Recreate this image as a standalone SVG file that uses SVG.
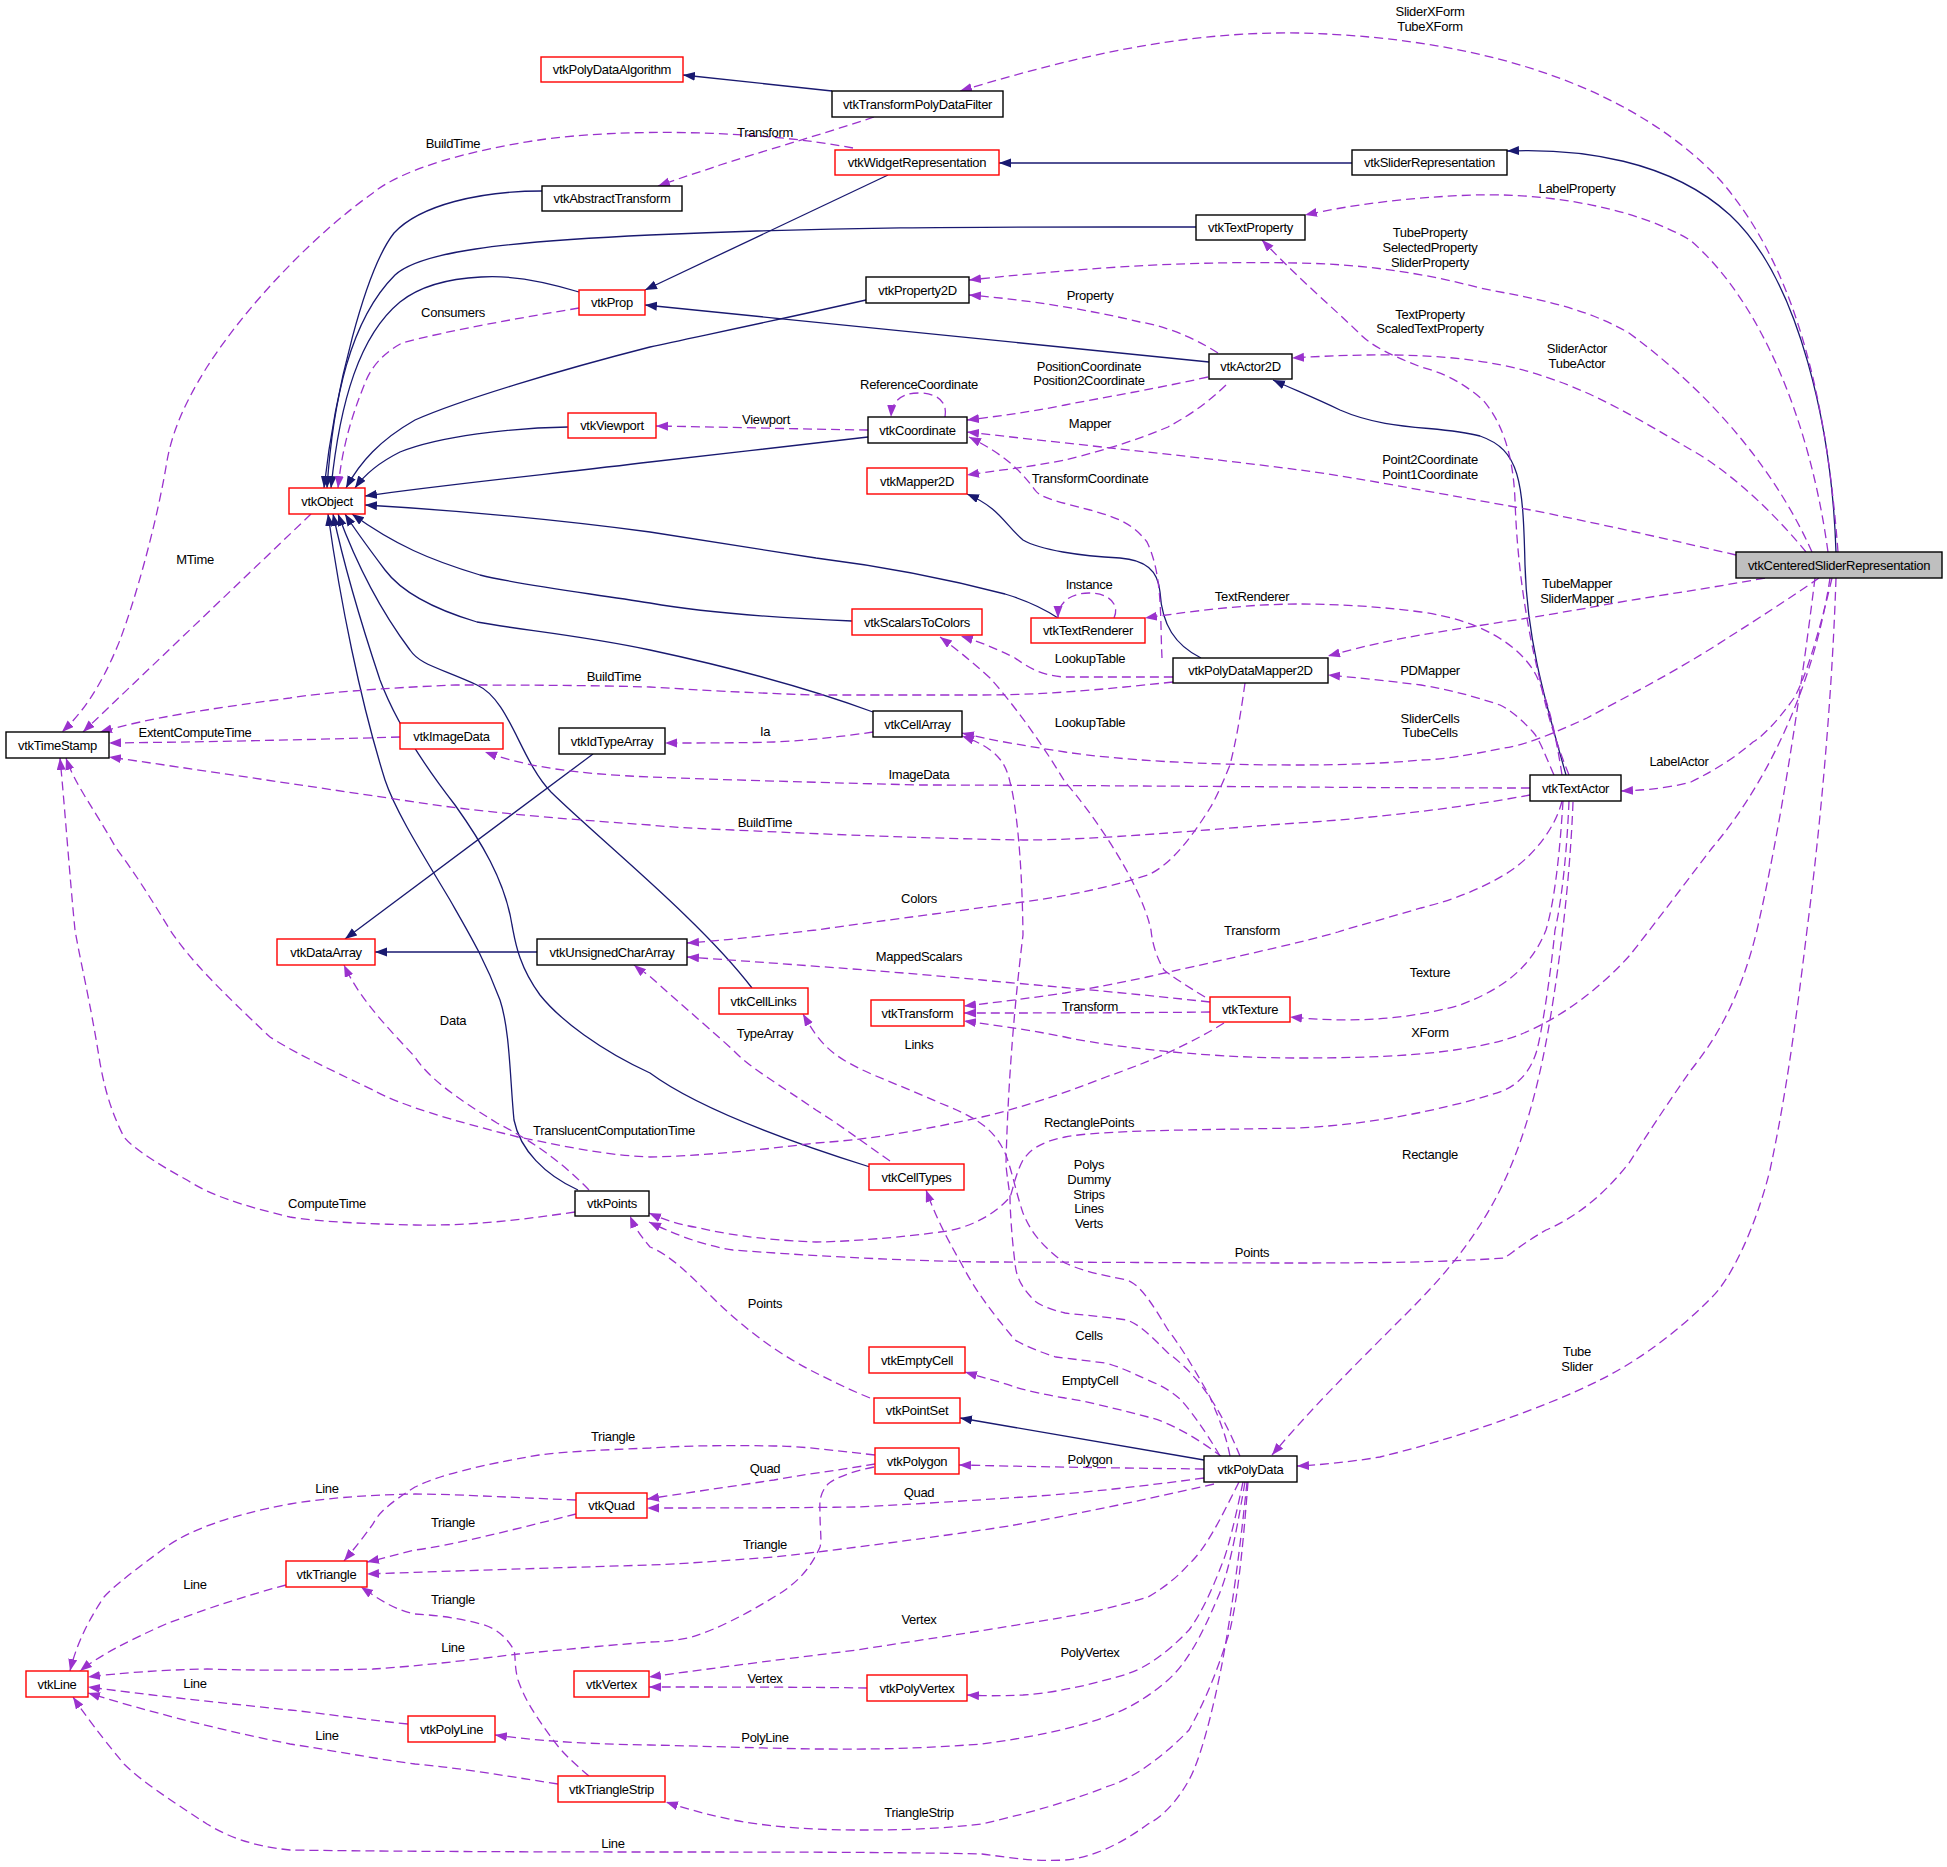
<svg xmlns="http://www.w3.org/2000/svg" width="1947" height="1867" viewBox="0 0 1947 1867">
<style>
text{font-family:"Liberation Sans",Arial,sans-serif;font-size:13px;letter-spacing:-0.3px;fill:#000}
.n{text-anchor:middle}
.l{text-anchor:middle}
rect.r{fill:#fff;stroke:#ff0000;stroke-width:1.4}
rect.b{fill:#fff;stroke:#000;stroke-width:1.4}
rect.g{fill:#bfbfbf;stroke:#000;stroke-width:1.4}
.inh{fill:none;stroke:#191970;stroke-width:1.3;marker-end:url(#ai)}
.use{fill:none;stroke:#9a32cd;stroke-width:1.3;stroke-dasharray:9,5;marker-end:url(#au)}
</style>
<defs>
<marker id="ai" markerWidth="13" markerHeight="10" refX="12" refY="4.5" orient="auto" markerUnits="userSpaceOnUse"><path d="M0,0 L12,4.5 L0,9 z" fill="#191970"/></marker>
<marker id="au" markerWidth="13" markerHeight="10" refX="12" refY="4.5" orient="auto" markerUnits="userSpaceOnUse"><path d="M0,0 L12,4.5 L0,9 z" fill="#9a32cd"/></marker>
</defs>
<rect x="0" y="0" width="1947" height="1867" fill="#fff"/>
<g id="edges">
<!-- inheritance -->
<path class="inh" d="M832,91 L683,75"/>
<path class="inh" d="M888,175 L645,290"/>
<path class="inh" d="M1352,163 L999,163"/>
<path class="inh" d="M1836,552 C1832,430 1800,280 1730,215 C1670,160 1580,148 1507,151"/>
<path class="inh" d="M542,191 C480,191 420,205 394,233 C365,270 335,390 324,488"/>
<path class="inh" d="M1196,227 C1000,227 850,226 650,235 C500,242 420,252 395,275 C350,320 333,400 327,488"/>
<path class="inh" d="M579,292 C540,280 510,275 481,277 C440,279 415,290 400,302 C360,335 340,400 331,488"/>
<path class="inh" d="M866,300 C760,324 690,338 650,347 C560,370 460,400 415,420 C380,440 360,462 346,488"/>
<path class="inh" d="M568,427 C510,428 440,436 400,452 C380,462 365,474 355,488"/>
<path class="inh" d="M868,437 C800,445 720,454 650,462 C560,473 450,484 365,496"/>
<path class="inh" d="M1058,618 C1040,606 1025,600 1005,594 C940,577 880,566 816,558 C750,548 700,540 650,532 C560,520 450,510 365,505"/>
<path class="inh" d="M852,621 C780,618 700,612 650,603 C580,592 520,585 480,575 C430,560 395,545 352,514"/>
<path class="inh" d="M873,712 C800,685 720,665 650,650 C580,635 520,630 477,622 C430,608 400,590 385,570 C370,550 355,530 345,514"/>
<path class="inh" d="M752,988 C700,920 600,840 551,792 C520,760 510,700 477,685 C440,668 420,665 410,650 C380,610 355,560 338,514"/>
<path class="inh" d="M870,1167 C800,1145 700,1110 650,1073 C600,1050 560,1020 540,995 C518,965 515,940 512,925 C505,880 480,840 455,805 C420,760 395,720 380,680 C360,620 345,570 333,514"/>
<path class="inh" d="M578,1190 C545,1175 520,1150 514,1120 C510,1080 510,1030 500,1000 C485,960 470,935 450,900 C420,850 395,810 385,780 C360,700 340,600 328,514"/>
<path class="inh" d="M1209,362 L645,305"/>
<path class="inh" d="M1566,775 C1545,700 1527,640 1525,565 C1523,480 1520,450 1480,436 C1440,425 1390,432 1340,410 C1315,398 1295,390 1273,380"/>
<path class="inh" d="M1201,658 C1175,645 1162,625 1160,592 C1158,570 1145,560 1120,558 C1080,556 1040,550 1023,540 C1005,525 1000,508 967,494"/>
<path class="inh" d="M537,952 L375,952"/>
<path class="inh" d="M593,754 L345,939"/>
<path class="inh" d="M1204,1460 L960,1418"/>
<!-- usage -->
<path class="use" d="M1838,552 C1825,380 1790,260 1720,180 C1640,95 1500,38 1300,33 C1180,31 1070,58 960,91"/>
<path class="use" d="M1828,552 C1810,420 1760,300 1690,240 C1630,205 1540,193 1475,195 C1410,197 1350,205 1305,215"/>
<path class="use" d="M1812,552 C1780,480 1720,400 1629,333 C1580,305 1530,298 1480,288 C1420,272 1360,264 1297,263 C1200,261 1100,266 969,280"/>
<path class="use" d="M1218,353 C1190,335 1160,325 1140,322 C1090,310 1030,300 969,295"/>
<path class="use" d="M1806,552 C1780,520 1740,480 1700,455 C1640,420 1600,395 1546,377 C1490,358 1420,350 1292,358"/>
<path class="use" d="M1569,775 C1555,740 1546,710 1540,680 C1525,620 1517,560 1515,500 C1513,450 1500,420 1483,400 C1460,380 1440,372 1421,367 C1390,355 1370,345 1359,333 C1330,305 1300,280 1262,240"/>
<path class="use" d="M1736,555 C1650,535 1560,515 1504,505 C1430,492 1360,478 1300,470 C1200,457 1080,445 967,432"/>
<path class="use" d="M1208,377 C1150,390 1100,398 1065,405 C1030,412 1000,416 967,420"/>
<path class="use" d="M1226,385 C1200,410 1180,420 1168,427 C1120,447 1080,456 1065,460 C1030,467 1000,470 967,475"/>
<path class="use" d="M945,417 C948,400 935,393 919,393 C902,393 892,400 891,417"/>
<path class="use" d="M868,430 C800,429 720,427 656,426"/>
<path class="use" d="M1162,658 C1160,620 1163,575 1147,542 C1130,520 1110,516 1090,510 C1060,502 1040,498 1035,490 C1020,470 1005,455 969,437"/>
<path class="use" d="M1114,618 C1120,605 1110,593 1089,593 C1070,593 1058,603 1058,618"/>
<path class="use" d="M1562,775 C1555,730 1548,700 1536,675 C1520,645 1480,620 1421,612 C1370,605 1320,604 1300,604 C1250,604 1200,610 1145,618"/>
<path class="use" d="M1765,578 C1700,590 1640,598 1587,608 C1520,620 1460,628 1421,635 C1380,642 1350,650 1328,656"/>
<path class="use" d="M1554,775 C1545,755 1540,740 1533,732 C1520,718 1510,710 1500,705 C1470,695 1450,690 1421,685 C1380,680 1350,677 1328,675"/>
<path class="use" d="M1173,677 C1120,677 1080,677 1065,677 C1040,676 1025,665 1015,658 C995,648 980,642 961,636"/>
<path class="use" d="M1173,682 C1100,690 1040,695 982,695 C900,695 850,695 816,695 C750,693 700,690 650,687 C580,685 500,685 456,685 C380,688 320,693 290,698 C200,710 150,718 100,732"/>
<path class="use" d="M311,514 L83,732"/>
<path class="use" d="M853,148 C760,130 620,128 539,140 C470,150 400,170 373,193 C320,230 250,300 207,367 C180,410 170,440 166,467 C155,530 135,600 120,640 C100,690 80,715 62,732"/>
<path class="use" d="M874,117 C820,135 760,152 720,165 C700,172 680,178 658,186"/>
<path class="use" d="M579,308 C520,318 450,330 402,343 C380,355 370,370 365,383 C350,420 342,450 338,488"/>
<path class="use" d="M400,737 C300,740 200,742 109,743"/>
<path class="use" d="M1530,788 C1400,788 1300,787 1300,787 C1150,786 1000,785 920,785 C800,782 700,779 650,777 C580,774 530,768 485,752"/>
<path class="use" d="M1530,795 C1450,810 1350,820 1297,823 C1200,830 1100,840 1023,840 C900,838 780,832 733,830 C680,828 660,826 650,825 C550,818 480,812 415,802 C300,785 200,770 109,757"/>
<path class="use" d="M1819,578 C1780,605 1740,630 1712,648 C1660,680 1620,700 1587,718 C1550,735 1525,745 1504,748 C1470,755 1440,760 1421,760 C1380,764 1330,765 1297,765 C1200,765 1120,760 1065,752 C1020,745 990,740 962,733"/>
<path class="use" d="M873,732 C840,737 800,741 774,742 C740,743 700,743 665,743"/>
<path class="use" d="M1563,801 C1560,850 1555,900 1546,930 C1530,970 1500,990 1460,1005 C1400,1022 1340,1022 1290,1017"/>
<path class="use" d="M1569,801 C1567,850 1562,900 1555,930 C1550,980 1542,1030 1537,1050 C1528,1080 1510,1090 1490,1095 C1440,1110 1370,1125 1297,1128 C1200,1130 1100,1130 1065,1137 C1040,1142 1030,1150 1023,1160 C1015,1175 1013,1190 1010,1197 C990,1220 960,1230 940,1232 C880,1240 830,1242 816,1242 C760,1240 720,1233 700,1228 C680,1225 665,1220 649,1213"/>
<path class="use" d="M1573,802 C1570,880 1560,960 1550,1020 C1540,1080 1525,1140 1500,1190 C1470,1250 1430,1290 1400,1320 C1350,1370 1310,1410 1272,1455"/>
<path class="use" d="M1830,578 C1815,680 1770,780 1712,848 C1680,890 1650,930 1630,955 C1590,1000 1540,1030 1504,1040 C1450,1055 1380,1058 1297,1058 C1200,1058 1100,1045 1065,1037 C1030,1030 1000,1026 964,1021"/>
<path class="use" d="M1562,801 C1555,830 1530,860 1504,875 C1470,895 1440,903 1421,908 C1380,920 1350,928 1338,932 C1300,943 1200,965 1147,977 C1110,985 1080,990 1065,993 C1030,998 1000,1002 964,1006"/>
<path class="use" d="M1210,1012 C1120,1013 1040,1013 964,1013"/>
<path class="use" d="M1210,1002 C1100,990 1000,982 982,980 C900,972 800,965 687,957"/>
<path class="use" d="M1205,997 C1185,985 1170,975 1164,970 C1155,955 1152,940 1151,930 C1140,880 1090,810 1065,782 C1040,740 1010,700 990,678 C970,660 955,648 940,637"/>
<path class="use" d="M1224,1023 C1180,1050 1140,1065 1106,1077 C1060,1095 1020,1108 982,1117 C900,1135 860,1140 816,1143 C760,1150 700,1156 650,1157 C600,1155 560,1145 518,1137 C450,1120 400,1105 373,1090 C320,1065 290,1050 270,1037 C220,990 190,960 170,930 C140,880 125,860 116,848 C95,810 75,785 66,758"/>
<path class="use" d="M575,1212 C520,1220 470,1226 415,1225 C370,1224 320,1222 290,1217 C240,1205 210,1195 187,1180 C150,1160 130,1145 124,1137 C110,1110 104,1085 100,1063 C90,1000 80,960 75,930 C70,880 65,810 60,758"/>
<path class="use" d="M589,1190 C560,1160 530,1140 497,1123 C460,1100 430,1080 415,1057 C390,1030 360,1000 344,965"/>
<path class="use" d="M890,1161 C860,1140 840,1125 816,1110 C780,1085 750,1068 733,1050 C700,1020 670,995 654,980 C645,972 640,970 634,965"/>
<path class="use" d="M1230,1456 C1225,1430 1215,1410 1210,1397 C1195,1370 1180,1345 1168,1330 C1150,1300 1140,1285 1127,1280 C1100,1275 1080,1270 1065,1263 C1040,1245 1030,1230 1023,1213 C1015,1190 1010,1160 1002,1147 C990,1125 970,1115 940,1103 C900,1085 870,1075 849,1063 C825,1050 815,1035 803,1014"/>
<path class="use" d="M1240,1456 C1225,1420 1205,1380 1168,1353 C1150,1335 1140,1325 1127,1320 C1100,1316 1080,1315 1065,1313 C1045,1308 1035,1303 1031,1297 C1020,1285 1016,1275 1015,1263 C1012,1240 1010,1210 1010,1197 C1008,1180 1006,1170 1006,1163 C1008,1080 1015,1000 1023,935 C1022,850 1015,800 1010,782 C1005,760 995,748 962,736"/>
<path class="use" d="M1220,1456 C1205,1430 1190,1410 1181,1400 C1170,1390 1160,1385 1148,1380 C1130,1372 1120,1367 1106,1363 C1080,1360 1065,1358 1056,1357 C1040,1352 1025,1346 1015,1340 C990,1310 975,1290 961,1263 C945,1235 935,1215 926,1190"/>
<path class="use" d="M1815,578 C1800,700 1780,830 1757,930 C1740,1000 1715,1040 1691,1070 C1670,1100 1650,1130 1629,1163 C1600,1200 1570,1220 1546,1230 C1520,1245 1510,1255 1504,1258 C1450,1262 1380,1263 1297,1263 C1200,1263 1080,1262 982,1262 C880,1260 800,1255 733,1250 C700,1245 670,1232 649,1222"/>
<path class="use" d="M1836,578 C1832,700 1820,830 1807,930 C1795,1030 1785,1100 1770,1170 C1755,1230 1730,1280 1712,1297 C1680,1330 1640,1360 1600,1380 C1540,1410 1450,1440 1380,1457 C1350,1462 1320,1465 1297,1466"/>
<path class="use" d="M1832,578 C1820,630 1805,680 1794,698 C1775,725 1760,738 1753,742 C1730,762 1705,775 1691,782 C1660,790 1640,790 1621,791"/>
<path class="use" d="M1222,1457 C1200,1440 1170,1422 1148,1417 C1110,1407 1080,1400 1065,1398 C1040,1394 1025,1390 1015,1387 C1000,1382 985,1378 965,1372"/>
<path class="use" d="M870,1398 C850,1390 830,1380 816,1373 C770,1350 735,1320 712,1297 C690,1275 670,1255 650,1247 C640,1235 635,1228 630,1216"/>
<path class="use" d="M1204,1469 C1120,1468 1050,1467 959,1465"/>
<path class="use" d="M1204,1478 C1130,1488 1060,1495 1023,1497 C950,1502 880,1506 857,1507 C780,1508 700,1508 647,1508"/>
<path class="use" d="M1214,1484 C1100,1510 1020,1525 982,1530 C900,1542 820,1552 774,1557 C720,1561 680,1564 650,1565 C550,1568 450,1571 367,1574"/>
<path class="use" d="M875,1464 C840,1470 800,1475 774,1480 C720,1488 680,1494 647,1499"/>
<path class="use" d="M875,1455 C830,1450 800,1446 774,1446 C720,1445 680,1446 650,1448 C600,1450 560,1452 539,1455 C480,1465 440,1475 415,1487 C395,1500 380,1510 373,1524 C365,1535 355,1548 344,1561"/>
<path class="use" d="M874,1467 C850,1472 835,1478 828,1484 C818,1495 820,1505 820,1514 C820,1530 822,1540 820,1547 C810,1570 795,1585 774,1597 C745,1615 715,1630 692,1637 C675,1641 660,1642 650,1642 C600,1646 560,1650 518,1654 C470,1660 420,1666 373,1669 C300,1671 230,1670 207,1669 C160,1670 120,1673 88,1677"/>
<path class="use" d="M576,1500 C500,1497 450,1494 415,1494 C360,1495 320,1499 290,1504 C230,1515 190,1530 166,1547 C135,1570 115,1585 104,1597 C85,1625 75,1650 70,1671"/>
<path class="use" d="M576,1514 C520,1528 450,1546 415,1550 C395,1555 385,1558 367,1562"/>
<path class="use" d="M286,1585 C230,1600 190,1615 166,1624 C130,1640 100,1655 80,1671"/>
<path class="use" d="M589,1776 C570,1760 560,1750 551,1737 C535,1715 525,1700 518,1680 C514,1665 516,1658 514,1650 C505,1635 495,1628 481,1624 C450,1616 430,1615 415,1614 C395,1610 380,1600 361,1587"/>
<path class="use" d="M558,1784 C500,1775 460,1768 415,1764 C370,1758 330,1750 290,1744 C220,1730 150,1712 88,1693"/>
<path class="use" d="M408,1724 C350,1718 320,1713 290,1710 C220,1703 150,1695 88,1687"/>
<path class="use" d="M1247,1482 C1240,1550 1232,1610 1222,1664 C1212,1715 1200,1760 1189,1780 C1175,1805 1160,1818 1148,1824 C1120,1845 1090,1858 1065,1860 C1030,1862 1000,1856 982,1854 C900,1852 750,1852 650,1852 C500,1852 350,1851 290,1850 C250,1846 225,1835 207,1824 C170,1800 140,1780 124,1764 C100,1735 85,1715 73,1697"/>
<path class="use" d="M1239,1482 C1220,1520 1205,1550 1189,1564 C1175,1580 1160,1590 1148,1597 C1100,1612 1060,1618 1023,1624 C950,1636 900,1643 857,1650 C760,1662 700,1670 649,1677"/>
<path class="use" d="M867,1688 C800,1687 720,1687 649,1687"/>
<path class="use" d="M1243,1482 C1235,1520 1228,1550 1222,1564 C1210,1595 1200,1615 1189,1630 C1165,1655 1145,1668 1127,1674 C1080,1688 1050,1693 1023,1695 C1000,1696 985,1696 967,1695"/>
<path class="use" d="M1245,1482 C1235,1540 1228,1575 1218,1597 C1200,1640 1185,1665 1168,1680 C1145,1700 1125,1710 1106,1717 C1060,1733 1010,1740 982,1744 C900,1750 860,1749 816,1749 C750,1748 700,1746 650,1745 C580,1744 530,1740 495,1735"/>
<path class="use" d="M1248,1482 C1242,1560 1237,1600 1230,1630 C1215,1680 1200,1710 1189,1730 C1160,1760 1130,1780 1106,1787 C1060,1805 1020,1815 982,1824 C930,1830 890,1830 857,1830 C800,1830 760,1825 733,1820 C710,1815 690,1810 666,1802"/>
<path class="use" d="M1245,683 C1240,720 1235,745 1230,765 C1222,785 1215,800 1210,808 C1190,840 1170,865 1148,875 C1100,890 1060,897 1023,902 C950,912 850,925 816,930 C770,935 730,940 687,943"/>
<!-- labels -->
<text class="l"><tspan x="1430" y="16">SliderXForm</tspan><tspan x="1430" y="30.5">TubeXForm</tspan></text>
<text class="l" x="1577" y="192.5">LabelProperty</text>
<text class="l"><tspan x="1430" y="236.5">TubeProperty</tspan><tspan x="1430" y="251.5">SelectedProperty</tspan><tspan x="1430" y="266.5">SliderProperty</tspan></text>
<text class="l" x="1090" y="299.5">Property</text>
<text class="l"><tspan x="1577" y="352.5">SliderActor</tspan><tspan x="1577" y="367.5">TubeActor</tspan></text>
<text class="l"><tspan x="1430" y="318.5">TextProperty</tspan><tspan x="1430" y="332.5">ScaledTextProperty</tspan></text>
<text class="l"><tspan x="1430" y="463.8">Point2Coordinate</tspan><tspan x="1430" y="478.8">Point1Coordinate</tspan></text>
<text class="l"><tspan x="1089" y="370.5">PositionCoordinate</tspan><tspan x="1089" y="384.5">Position2Coordinate</tspan></text>
<text class="l" x="1090" y="428">Mapper</text>
<text class="l" x="919" y="388.5">ReferenceCoordinate</text>
<text class="l" x="766" y="423.5">Viewport</text>
<text class="l" x="1090" y="482.5">TransformCoordinate</text>
<text class="l" x="1089" y="588.5">Instance</text>
<text class="l" x="1252" y="600.5">TextRenderer</text>
<text class="l"><tspan x="1577" y="587.5">TubeMapper</tspan><tspan x="1577" y="602.5">SliderMapper</tspan></text>
<text class="l" x="1430" y="674.5">PDMapper</text>
<text class="l" x="1090" y="662.5">LookupTable</text>
<text class="l" x="614" y="680.5">BuildTime</text>
<text class="l" x="195" y="563.5">MTime</text>
<text class="l" x="453" y="147.5">BuildTime</text>
<text class="l" x="765" y="136.5">Transform</text>
<text class="l" x="453" y="316.5">Consumers</text>
<text class="l" x="195" y="736.5">ExtentComputeTime</text>
<text class="l" x="919" y="778.5">ImageData</text>
<text class="l" x="765" y="826.5">BuildTime</text>
<text class="l"><tspan x="1430" y="722.5">SliderCells</tspan><tspan x="1430" y="736.5">TubeCells</tspan></text>
<text class="l" x="765" y="736">Ia</text>
<text class="l" x="1430" y="976.5">Texture</text>
<text class="l" x="1089" y="1126.5">RectanglePoints</text>
<text class="l" x="1430" y="1158.5">Rectangle</text>
<text class="l" x="1430" y="1036.5">XForm</text>
<text class="l" x="1252" y="934.5">Transform</text>
<text class="l" x="1090" y="1011">Transform</text>
<text class="l" x="919" y="960.5">MappedScalars</text>
<text class="l" x="1090" y="726.5">LookupTable</text>
<text class="l" x="614" y="1134.5">TranslucentComputationTime</text>
<text class="l" x="327" y="1207.5">ComputeTime</text>
<text class="l" x="453" y="1024.5">Data</text>
<text class="l" x="765" y="1037.5">TypeArray</text>
<text class="l" x="919" y="1048.5">Links</text>
<text class="l"><tspan x="1089" y="1168.5">Polys</tspan><tspan x="1089" y="1183.5">Dummy</tspan><tspan x="1089" y="1198.5">Strips</tspan><tspan x="1089" y="1213">Lines</tspan><tspan x="1089" y="1228">Verts</tspan></text>
<text class="l" x="1089" y="1339.5">Cells</text>
<text class="l" x="1252" y="1256.5">Points</text>
<text class="l"><tspan x="1577" y="1355.5">Tube</tspan><tspan x="1577" y="1370.5">Slider</tspan></text>
<text class="l" x="1679" y="766">LabelActor</text>
<text class="l" x="1090" y="1384.5">EmptyCell</text>
<text class="l" x="765" y="1307.5">Points</text>
<text class="l" x="1090" y="1463.5">Polygon</text>
<text class="l" x="919" y="1497">Quad</text>
<text class="l" x="765" y="1548.5">Triangle</text>
<text class="l" x="765" y="1472.5">Quad</text>
<text class="l" x="613" y="1440.5">Triangle</text>
<text class="l" x="453" y="1651.5">Line</text>
<text class="l" x="327" y="1492.5">Line</text>
<text class="l" x="453" y="1526.5">Triangle</text>
<text class="l" x="195" y="1588.5">Line</text>
<text class="l" x="453" y="1603.5">Triangle</text>
<text class="l" x="327" y="1739.5">Line</text>
<text class="l" x="195" y="1687.5">Line</text>
<text class="l" x="613" y="1847.5">Line</text>
<text class="l" x="919" y="1623.5">Vertex</text>
<text class="l" x="765" y="1683">Vertex</text>
<text class="l" x="1090" y="1656.5">PolyVertex</text>
<text class="l" x="765" y="1742">PolyLine</text>
<text class="l" x="919" y="1816.5">TriangleStrip</text>
<text class="l" x="919" y="902.5">Colors</text>
</g>
<g id="vtkCenteredSliderRepresentation"><rect class="g" x="1736" y="552" width="206" height="26"/><text class="n" x="1839" y="569.5">vtkCenteredSliderRepresentation</text></g>
<g id="vtkTransformPolyDataFilter"><rect class="b" x="832" y="91" width="171" height="26"/><text class="n" x="917.5" y="108.5">vtkTransformPolyDataFilter</text></g>
<g id="vtkPolyDataAlgorithm"><rect class="r" x="541" y="57" width="142" height="25"/><text class="n" x="612" y="74">vtkPolyDataAlgorithm</text></g>
<g id="vtkSliderRepresentation"><rect class="b" x="1352" y="150" width="155" height="25"/><text class="n" x="1429.5" y="167">vtkSliderRepresentation</text></g>
<g id="vtkWidgetRepresentation"><rect class="r" x="835" y="150" width="164" height="25"/><text class="n" x="917" y="167">vtkWidgetRepresentation</text></g>
<g id="vtkAbstractTransform"><rect class="b" x="542" y="186" width="140" height="25"/><text class="n" x="612" y="203">vtkAbstractTransform</text></g>
<g id="vtkTextProperty"><rect class="b" x="1196" y="215" width="109" height="25"/><text class="n" x="1250.5" y="232">vtkTextProperty</text></g>
<g id="vtkProperty2D"><rect class="b" x="866" y="277" width="103" height="26"/><text class="n" x="917.5" y="294.5">vtkProperty2D</text></g>
<g id="vtkProp"><rect class="r" x="579" y="290" width="66" height="25"/><text class="n" x="612" y="307">vtkProp</text></g>
<g id="vtkActor2D"><rect class="b" x="1209" y="354" width="83" height="25"/><text class="n" x="1250.5" y="371">vtkActor2D</text></g>
<g id="vtkCoordinate"><rect class="b" x="868" y="417" width="99" height="26"/><text class="n" x="917.5" y="434.5">vtkCoordinate</text></g>
<g id="vtkViewport"><rect class="r" x="568" y="413" width="88" height="25"/><text class="n" x="612" y="430">vtkViewport</text></g>
<g id="vtkMapper2D"><rect class="r" x="867" y="468" width="100" height="26"/><text class="n" x="917" y="485.5">vtkMapper2D</text></g>
<g id="vtkObject"><rect class="r" x="289" y="488" width="76" height="26"/><text class="n" x="327" y="505.5">vtkObject</text></g>
<g id="vtkTextRenderer"><rect class="r" x="1031" y="618" width="114" height="25"/><text class="n" x="1088" y="635">vtkTextRenderer</text></g>
<g id="vtkScalarsToColors"><rect class="r" x="852" y="609" width="130" height="26"/><text class="n" x="917" y="626.5">vtkScalarsToColors</text></g>
<g id="vtkPolyDataMapper2D"><rect class="b" x="1173" y="658" width="155" height="25"/><text class="n" x="1250.5" y="675">vtkPolyDataMapper2D</text></g>
<g id="vtkTimeStamp"><rect class="b" x="6" y="732" width="103" height="26"/><text class="n" x="57.5" y="749.5">vtkTimeStamp</text></g>
<g id="vtkImageData"><rect class="r" x="400" y="723" width="103" height="26"/><text class="n" x="451.5" y="740.5">vtkImageData</text></g>
<g id="vtkIdTypeArray"><rect class="b" x="559" y="728" width="106" height="26"/><text class="n" x="612" y="745.5">vtkIdTypeArray</text></g>
<g id="vtkCellArray"><rect class="b" x="873" y="711" width="89" height="26"/><text class="n" x="917.5" y="728.5">vtkCellArray</text></g>
<g id="vtkTextActor"><rect class="b" x="1530" y="775" width="91" height="26"/><text class="n" x="1575.5" y="792.5">vtkTextActor</text></g>
<g id="vtkDataArray"><rect class="r" x="277" y="939" width="98" height="26"/><text class="n" x="326" y="956.5">vtkDataArray</text></g>
<g id="vtkUnsignedCharArray"><rect class="b" x="537" y="939" width="150" height="26"/><text class="n" x="612" y="956.5">vtkUnsignedCharArray</text></g>
<g id="vtkCellLinks"><rect class="r" x="719" y="988" width="89" height="26"/><text class="n" x="763.5" y="1005.5">vtkCellLinks</text></g>
<g id="vtkTransform"><rect class="r" x="871" y="1000" width="93" height="26"/><text class="n" x="917.5" y="1017.5">vtkTransform</text></g>
<g id="vtkTexture"><rect class="r" x="1210" y="997" width="80" height="25"/><text class="n" x="1250" y="1014">vtkTexture</text></g>
<g id="vtkCellTypes"><rect class="r" x="869" y="1164" width="95" height="26"/><text class="n" x="916.5" y="1181.5">vtkCellTypes</text></g>
<g id="vtkPoints"><rect class="b" x="575" y="1191" width="74" height="25"/><text class="n" x="612" y="1208">vtkPoints</text></g>
<g id="vtkEmptyCell"><rect class="r" x="869" y="1347" width="96" height="26"/><text class="n" x="917" y="1364.5">vtkEmptyCell</text></g>
<g id="vtkPointSet"><rect class="r" x="874" y="1398" width="86" height="25"/><text class="n" x="917" y="1415">vtkPointSet</text></g>
<g id="vtkPolygon"><rect class="r" x="875" y="1448" width="84" height="26"/><text class="n" x="917" y="1465.5">vtkPolygon</text></g>
<g id="vtkPolyData"><rect class="b" x="1204" y="1456" width="93" height="26"/><text class="n" x="1250.5" y="1473.5">vtkPolyData</text></g>
<g id="vtkQuad"><rect class="r" x="576" y="1493" width="71" height="25"/><text class="n" x="611.5" y="1510">vtkQuad</text></g>
<g id="vtkTriangle"><rect class="r" x="286" y="1561" width="81" height="26"/><text class="n" x="326.5" y="1578.5">vtkTriangle</text></g>
<g id="vtkLine"><rect class="r" x="26" y="1671" width="62" height="26"/><text class="n" x="57" y="1688.5">vtkLine</text></g>
<g id="vtkVertex"><rect class="r" x="574" y="1671" width="75" height="26"/><text class="n" x="611.5" y="1688.5">vtkVertex</text></g>
<g id="vtkPolyVertex"><rect class="r" x="867" y="1675" width="100" height="26"/><text class="n" x="917" y="1692.5">vtkPolyVertex</text></g>
<g id="vtkPolyLine"><rect class="r" x="408" y="1716" width="87" height="26"/><text class="n" x="451.5" y="1733.5">vtkPolyLine</text></g>
<g id="vtkTriangleStrip"><rect class="r" x="558" y="1776" width="107" height="26"/><text class="n" x="611.5" y="1793.5">vtkTriangleStrip</text></g>
</svg>
